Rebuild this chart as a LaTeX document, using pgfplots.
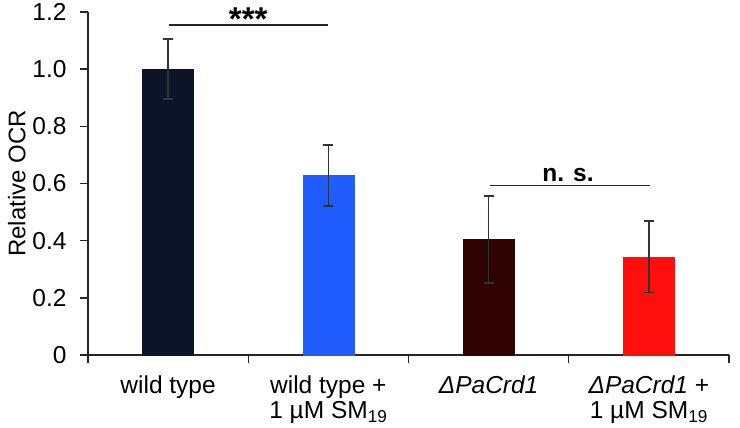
\documentclass[border=0pt]{standalone}
\usepackage{pgfplots}
\pgfplotsset{compat=1.18}
\usepackage{fontspec}
\setmainfont{Liberation Sans}
\definecolor{c1}{RGB}{12,20,40}
\definecolor{c2}{RGB}{32,92,255}
\definecolor{c3}{RGB}{48,2,2}
\definecolor{c4}{RGB}{255,14,14}
\definecolor{errc}{RGB}{45,52,52}
\begin{document}
\begin{tikzpicture}
\useasboundingbox (-88pt,-73pt) rectangle (652pt,355pt);
\begin{axis}[
  at={(0pt,0pt)}, anchor=origin,
  scale only axis, width=641pt, height=343pt,
  xmin=0, xmax=4, ymin=0, ymax=1.2,
  axis x line=bottom, axis y line=left,
  axis line style={-, line width=1.4pt, color=black!85},
  tick style={line width=1.4pt, color=black!85},
  tick align=outside, major tick length=8pt,
  xtick={0,1,2,3,4},
  x tick label as interval,
  xticklabels={wild type, {wild type +\\1 µM SM\textsubscript{19}}, {\textit{ΔPaCrd1}}, {\textit{ΔPaCrd1} +\\1 µM SM\textsubscript{19}}},
  xticklabel style={align=center, font=\fontsize{24.5}{25}\selectfont, yshift=-9pt},
  ytick={0,0.2,0.4,0.6,0.8,1.0,1.2},
  yticklabels={0,0.2,0.4,0.6,0.8,1.0,1.2},
  yticklabel style={font=\fontsize{24.5}{28}\selectfont, xshift=-10pt},
  ylabel={Relative OCR},
  ylabel style={font=\fontsize{24}{28}\selectfont},
  clip=false,
]
\addplot[ybar, bar width=51pt, bar shift=0pt, fill=c1, draw=c1,
  error bars/.cd, y dir=both, y explicit,
  error bar style={line width=1.6pt, color=errc},
  error mark options={rotate=90, mark size=5pt, line width=1.6pt, color=errc}]
  coordinates {(0.5,1.0) +- (0,0.105)};
\addplot[ybar, bar width=51pt, bar shift=0pt, fill=c2, draw=c2,
  error bars/.cd, y dir=both, y explicit,
  error bar style={line width=1.6pt, color=errc},
  error mark options={rotate=90, mark size=5pt, line width=1.6pt, color=errc}]
  coordinates {(1.5,0.628) +- (0,0.106)};
\addplot[ybar, bar width=51pt, bar shift=0pt, fill=c3, draw=c3,
  error bars/.cd, y dir=both, y explicit,
  error bar style={line width=1.6pt, color=errc},
  error mark options={rotate=90, mark size=5pt, line width=1.6pt, color=errc}]
  coordinates {(2.5,0.404) +- (0,0.152)};
\addplot[ybar, bar width=51pt, bar shift=0pt, fill=c4, draw=c4,
  error bars/.cd, y dir=both, y explicit,
  error bar style={line width=1.6pt, color=errc},
  error mark options={rotate=90, mark size=5pt, line width=1.6pt, color=errc}]
  coordinates {(3.5,0.343) +- (0,0.125)};
\draw[line width=1.4pt, black!85] (axis cs:0.505,1.154) -- (axis cs:1.5,1.154);
\node[anchor=base, font=\fontsize{33}{36}\selectfont\bfseries, inner sep=0pt] at (axis cs:1.0,1.137) {***};
\draw[line width=1.4pt, black!85] (axis cs:2.51,0.594) -- (axis cs:3.51,0.594);
\node[anchor=base, font=\fontsize{24.5}{28}\selectfont\bfseries, inner sep=0pt] at (axis cs:2.995,0.606) {n. s.};
\end{axis}
\end{tikzpicture}
\end{document}
